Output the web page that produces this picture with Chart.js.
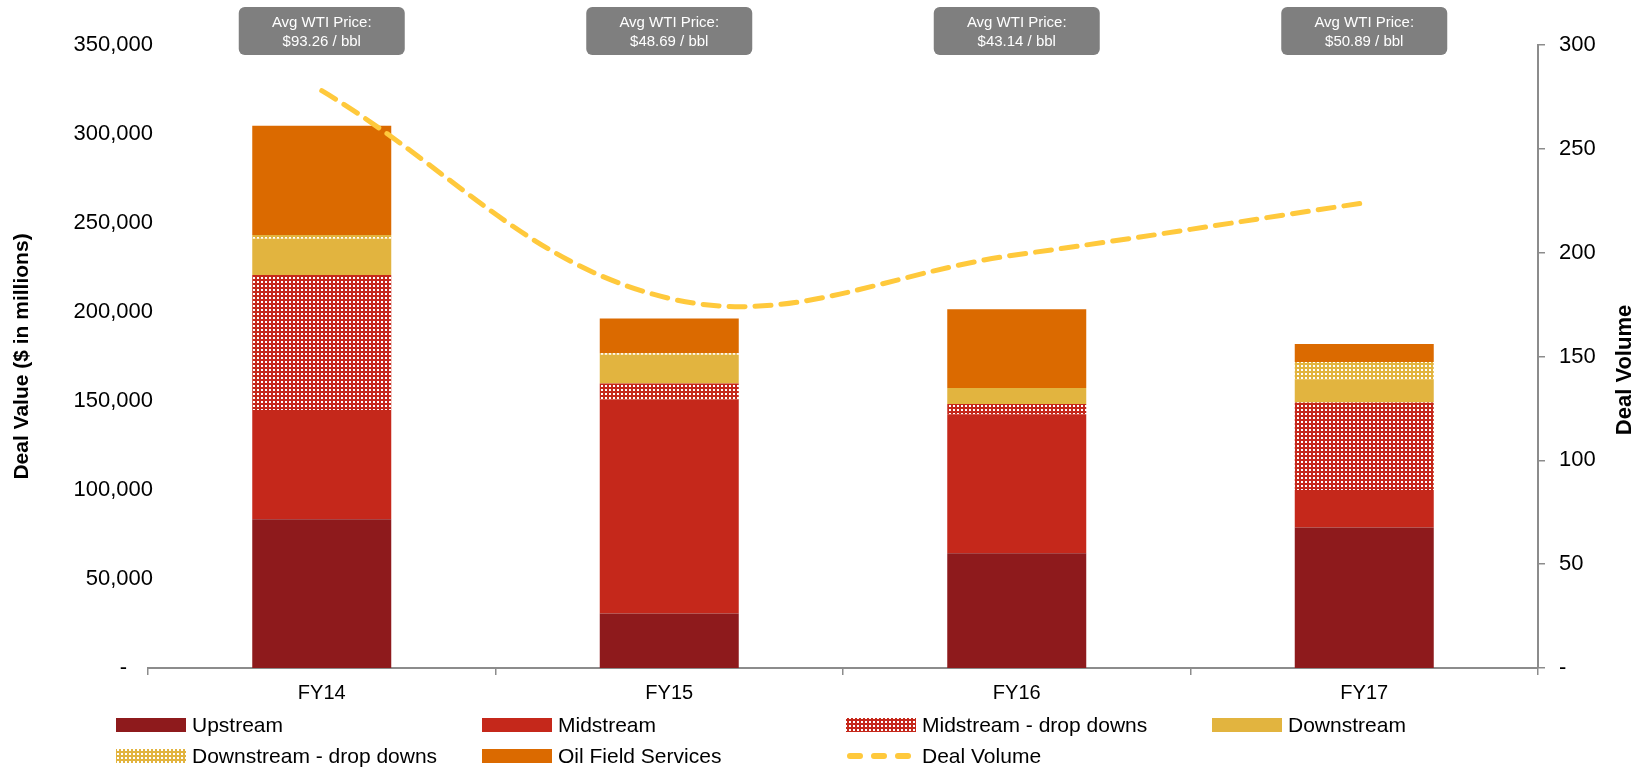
<!DOCTYPE html>
<html>
<head>
<meta charset="utf-8">
<script src="https://cdn.jsdelivr.net/npm/chart.js@4/dist/chart.umd.min.js"></script>
<style>
  html, body { margin: 0; padding: 0; background: #ffffff; }
  #wrap { width: 1649px; height: 771px; position: relative; }
</style>
</head>
<body>
<div id="wrap"><canvas id="chart" width="1649" height="771"></canvas></div>
<script>
// Fiscal years on the category axis
const categories = ['FY14', 'FY15', 'FY16', 'FY17'];

// Deal value by segment ($ in millions)
const upstream = [83500, 30600, 64400, 79000];
const midstream = [61400, 120300, 78100, 21000];
const midstreamDropDowns = [75900, 9000, 5800, 49200];
const downstream = [20400, 16100, 8400, 13000];
const downstreamDropDowns = [2100, 800, 600, 9700];
const oilFieldServices = [61300, 19500, 44200, 10100];

// Number of deals per year (right axis)
const dealVolume = [278, 178, 199, 224];

// Average WTI crude price per year ($ / bbl)
const wtiPrice = [93.26, 48.69, 43.14, 50.89];

// Axis tick values
const valueTicks = [0, 50000, 100000, 150000, 200000, 250000, 300000, 350000];
const volumeTicks = [0, 50, 100, 150, 200, 250, 300];

const FONT = 'Liberation Sans, Arial, sans-serif';
const COLORS = {
  upstream: '#8e1a1c',
  midstream: '#c5281b',
  downstream: '#e2b43f',
  oilField: '#db6a00',
  volume: '#ffc93c',
  axis: '#8c8c8c'
};

// Dotted fill: solid colour with a grid of small white squares
function dotPattern(color) {
  const c = document.createElement('canvas');
  c.width = 4; c.height = 4;
  const g = c.getContext('2d');
  g.fillStyle = color; g.fillRect(0, 0, 4, 4);
  g.fillStyle = '#ffffff'; g.fillRect(1, 1, 2, 2);
  return g.createPattern(c, 'repeat');
}
const ctx = document.getElementById('chart').getContext('2d');
const midPattern = dotPattern(COLORS.midstream);
const downPattern = dotPattern(COLORS.downstream);

// Accounting-style numbers: zero shows as a dash
function fmt(v) {
  return v === 0 ? '-' : v.toLocaleString('en-US');
}

// Price call-outs above each year
const priceBoxes = {
  id: 'priceBoxes',
  afterDraw(chart) {
    const g = chart.ctx;
    const xs = chart.scales.x;
    g.save();
    wtiPrice.forEach((p, i) => {
      const cx = xs.getPixelForValue(i);
      const w = 166, h = 48, top = 7;
      g.beginPath();
      g.roundRect(cx - w / 2, top, w, h, 6);
      g.fillStyle = '#7f7f7f';
      g.fill();
      g.fillStyle = '#ffffff';
      g.font = '15px ' + FONT;
      g.textAlign = 'center';
      g.textBaseline = 'middle';
      g.fillText('Avg WTI Price:', cx, top + 16);
      g.fillText('$' + p.toFixed(2) + ' / bbl', cx, top + 35);
    });
    g.restore();
  }
};

// Left tick labels (allowed to run slightly past the plot edge),
// right-axis title reading bottom-to-top, and the two-row legend
const extras = {
  id: 'extras',
  afterDraw(chart) {
    const g = chart.ctx;
    const area = chart.chartArea;
    const ys = chart.scales.y;

    g.save();
    g.font = '22px ' + FONT;
    g.fillStyle = '#000';
    g.textAlign = 'right';
    g.textBaseline = 'middle';
    ys.ticks.forEach(t => {
      // the zero dash sits in from the edge, like a padded accounting format
      const inset = t.value === 0 ? 26 : 0;
      g.fillText(fmt(t.value), area.left + 5 - inset, ys.getPixelForValue(t.value));
    });
    g.restore();

    g.save();
    g.translate(1625, 370);
    g.rotate(-Math.PI / 2);
    g.font = 'bold 22px ' + FONT;
    g.fillStyle = '#000';
    g.textAlign = 'center';
    g.textBaseline = 'middle';
    g.fillText('Deal Volume', 0, 0);
    g.restore();

    const cols = [116, 482, 846, 1212];
    const rows = [725, 756];
    const ds = chart.data.datasets;
    g.save();
    g.font = '21px ' + FONT;
    g.textBaseline = 'middle';
    g.textAlign = 'left';
    ds.forEach((d, k) => {
      const x = cols[k % 4];
      const y = rows[Math.floor(k / 4)];
      if (d.type === 'line') {
        g.strokeStyle = d.borderColor;
        g.lineWidth = 6;
        g.lineCap = 'round';
        g.setLineDash([10, 14]);
        g.beginPath();
        g.moveTo(x + 4, y);
        g.lineTo(x + 70, y);
        g.stroke();
        g.setLineDash([]);
      } else {
        g.fillStyle = d.backgroundColor;
        g.fillRect(x, y - 7, 70, 14);
      }
      g.fillStyle = '#000';
      g.fillText(d.label, x + 76, y + 1);
    });
    g.restore();
  }
};

const barCommon = {
  type: 'bar',
  stack: 'value',
  yAxisID: 'y',
  order: 1,
  categoryPercentage: 1,
  barPercentage: 0.4,
  borderWidth: 0
};

new Chart(ctx, {
  data: {
    labels: categories,
    datasets: [
      Object.assign({ label: 'Upstream', data: upstream, backgroundColor: COLORS.upstream }, barCommon),
      Object.assign({ label: 'Midstream', data: midstream, backgroundColor: COLORS.midstream }, barCommon),
      Object.assign({ label: 'Midstream - drop downs', data: midstreamDropDowns, backgroundColor: midPattern }, barCommon),
      Object.assign({ label: 'Downstream', data: downstream, backgroundColor: COLORS.downstream }, barCommon),
      Object.assign({ label: 'Downstream - drop downs', data: downstreamDropDowns, backgroundColor: downPattern }, barCommon),
      Object.assign({ label: 'Oil Field Services', data: oilFieldServices, backgroundColor: COLORS.oilField }, barCommon),
      {
        type: 'line',
        label: 'Deal Volume',
        data: dealVolume,
        yAxisID: 'y2',
        order: 0,
        borderColor: COLORS.volume,
        backgroundColor: COLORS.volume,
        borderWidth: 5,
        borderDash: [16, 10],
        borderCapStyle: 'round',
        tension: 0.38,
        pointRadius: 0,
        fill: false
      }
    ]
  },
  options: {
    responsive: false,
    animation: false,
    devicePixelRatio: 1,
    layout: { padding: { top: 45, left: 0, right: 0, bottom: 0 } },
    plugins: { legend: { display: false }, tooltip: { enabled: false } },
    scales: {
      x: {
        stacked: true,
        grid: { offset: true, drawOnChartArea: false, drawTicks: true, tickLength: 7, color: COLORS.axis, lineWidth: 1.5 },
        border: { color: COLORS.axis, width: 2 },
        ticks: { color: '#000', font: { family: FONT, size: 20 }, padding: 6 },
        afterFit(s) { s.height = 103; }
      },
      y: {
        stacked: true,
        min: 0,
        max: 350000,
        afterBuildTicks(s) { s.ticks = valueTicks.map(v => ({ value: v })); },
        grid: { display: false, drawTicks: false },
        border: { display: false },
        ticks: { display: false },
        title: { display: true, text: 'Deal Value ($ in millions)', color: '#000', font: { family: FONT, size: 21, weight: 'bold' }, padding: { top: 10, bottom: 0 } },
        afterFit(s) { s.width = 148; }
      },
      y2: {
        position: 'right',
        min: 0,
        max: 300,
        afterBuildTicks(s) { s.ticks = volumeTicks.map(v => ({ value: v })); },
        grid: { drawOnChartArea: false, drawTicks: true, tickLength: 7, color: COLORS.axis, lineWidth: 1.5 },
        border: { display: true, color: COLORS.axis, width: 2 },
        ticks: { color: '#000', font: { family: FONT, size: 22 }, padding: 14, callback: v => fmt(v) },
        afterFit(s) { s.width = 111; }
      }
    }
  },
  plugins: [priceBoxes, extras]
});
</script>
</body>
</html>
